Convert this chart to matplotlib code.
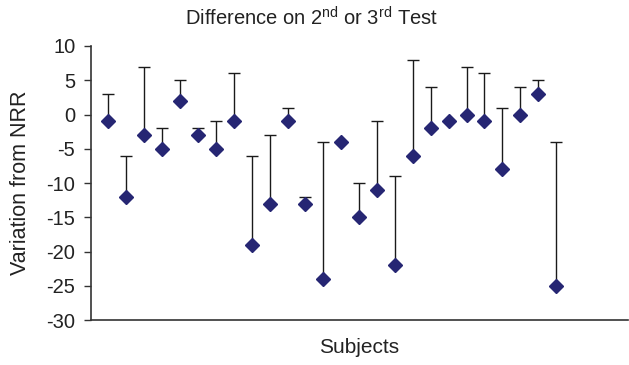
import numpy as np
import matplotlib.pyplot as plt

plt.rcParams['font.family'] = ['Liberation Sans', 'DejaVu Sans']
plt.rcParams['mathtext.fontset'] = 'custom'
plt.rcParams['mathtext.rm'] = 'Liberation Sans'
plt.rcParams['axes.unicode_minus'] = False

# variation from NRR at first test (diamonds) and at 2nd/3rd test (caps)
subjects = np.arange(1, 27)
first_test = [-1, -12, -3, -5, 2, -3, -5, -1, -19, -13, -1, -13, -24,
              -4, -15, -11, -22, -6, -2, -1, 0, -1, -8, 0, 3, -25]
retest = [3, -6, 7, -2, 5, -2, -1, 6, -6, -3, 1, -12, -4,
          -4, -10, -1, -9, 8, 4, -1, 7, 6, 1, 4, 5, -4]

first = np.array(first_test)
diff = np.array(retest) - first

fig = plt.figure(figsize=(6.29, 3.65), dpi=100)
ax = fig.add_axes([0.144, 0.123, 0.854, 0.751])

ax.errorbar(subjects, first, yerr=[np.zeros_like(diff), diff], fmt='none',
            ecolor='#1a1a1a', elinewidth=1.0, capsize=4, capthick=1.0, zorder=2)
ax.plot(subjects, first, 'D', color='#262673', markersize=7.5, zorder=3)

ax.set_xlim(0, 30)
ax.set_ylim(-30, 10)
ax.set_yticks(np.arange(-30, 11, 5))
ax.set_xticks([])
for s in ['top', 'right']:
    ax.spines[s].set_visible(False)
for s in ['left', 'bottom']:
    ax.spines[s].set_color('#333333')
    ax.spines[s].set_linewidth(1.2)
ax.tick_params(axis='y', direction='out', length=5, width=1, color='#333333',
               labelsize=14.5, labelcolor='#222222', pad=6)

ax.set_ylabel('Variation from NRR', fontsize=15.5, color='#222222')
ax.yaxis.set_label_coords(-0.11, 0.5)
ax.set_xlabel('Subjects', fontsize=15, color='#222222', labelpad=13)
fig.text(0.495, 0.951, r'Difference on 2$^{\rm nd}$ or 3$^{\rm rd}$ Test',
         fontsize=14.5, color='#222222', ha='center', va='center')

fig.savefig('out.png', dpi=100)
